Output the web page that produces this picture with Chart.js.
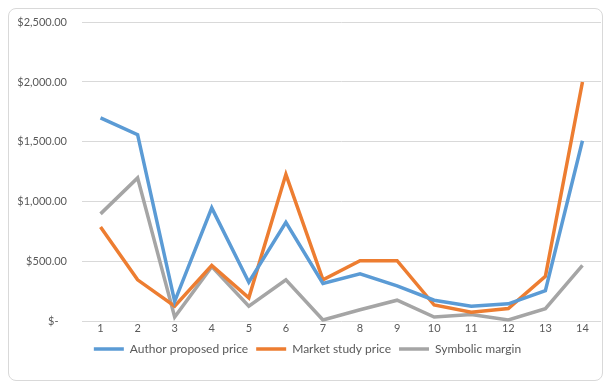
<!DOCTYPE html>
<html><head><meta charset="utf-8">
<script src="https://cdn.jsdelivr.net/npm/chart.js@4.4.0/dist/chart.umd.min.js"></script>
<style>
html,body{margin:0;padding:0;background:#fff;}
#frame{position:absolute;left:8px;top:8px;width:595px;height:373px;border:1px solid #d9d9d9;border-radius:8px;box-sizing:border-box;}
#wrap{position:absolute;left:0;top:0;width:612px;height:383px;}
</style></head>
<body>
<div id="frame"></div>
<div id="wrap"><canvas id="c" width="612" height="383"></canvas></div>
<script>
const categories = ['1','2','3','4','5','6','7','8','9','10','11','12','13','14'];
const authorPrice = [1700,1560,170,950,330,830,320,400,300,180,130,150,260,1510];
const marketPrice = [790,350,130,470,200,1230,350,510,510,140,80,110,380,2000];
const symbolicMargin = [900,1200,40,460,130,350,15,100,180,40,60,15,110,470];
const yTickLabels = {0:'$-   ',500:'$500.00',1000:'$1,000.00',1500:'$1,500.00',2000:'$2,000.00',2500:'$2,500.00'};

const font = {family:'Lato, "Open Sans", sans-serif', size:11};
new Chart(document.getElementById('c'), {
  type:'line',
  data:{labels:categories, datasets:[
    {label:'Author proposed price', data:authorPrice, borderColor:'#5B9BD5', backgroundColor:'#5B9BD5', borderWidth:3.5, pointRadius:0, tension:0},
    {label:'Market study price', data:marketPrice, borderColor:'#ED7D31', backgroundColor:'#ED7D31', borderWidth:3.5, pointRadius:0, tension:0},
    {label:'Symbolic margin', data:symbolicMargin, borderColor:'#A5A5A5', backgroundColor:'#A5A5A5', borderWidth:3.5, pointRadius:0, tension:0}
  ]},
  options:{
    responsive:false, animation:false,
    layout:{padding:{left:14,right:11,top:22,bottom:18}},
    plugins:{
      legend:{position:'bottom', labels:{usePointStyle:true, pointStyle:'line', pointStyleWidth:30, boxHeight:4, padding:8, color:'#595959', font:{family:font.family,size:12}}},
      tooltip:{enabled:false}
    },
    scales:{
      x:{offset:true, grid:{display:false, drawTicks:false}, border:{display:false}, ticks:{color:'#595959', font, padding:0}},
      y:{min:0,max:2500, afterFit:(s)=>{s.width=68;}, grid:{color:'#d9d9d9', drawTicks:false}, border:{display:false},
         ticks:{stepSize:500, color:'#595959', font, padding:15, callback:(v)=>yTickLabels[v]}}
    }
  }
});
</script>
</body></html>
